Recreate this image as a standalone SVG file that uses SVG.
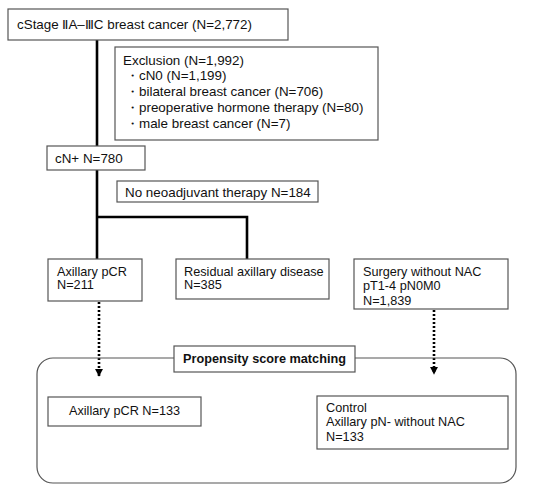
<svg xmlns="http://www.w3.org/2000/svg" width="550" height="491" viewBox="0 0 550 491">
<defs>
<style>
.box{fill:#fff;stroke:#555;stroke-width:1.2}
.t{font-family:"Liberation Sans",Arial,sans-serif;font-size:13.4px;fill:#111}
.s{font-size:12.7px}
.b{font-weight:bold}
.solid{stroke:#000;stroke-width:2.6;fill:none}
.dot{stroke:#000;stroke-width:2.6;fill:none;stroke-dasharray:2 2}
</style>
<marker id="ah" viewBox="0 0 10 10" refX="9" refY="5" markerWidth="3.2" markerHeight="3.2" orient="auto" markerUnits="strokeWidth">
<path d="M0,0 L10,5 L0,10 Z" fill="#000"/>
</marker>
</defs>
<rect width="550" height="491" fill="#fff"/>
<g id="connectors">
<path class="solid" d="M97,40 V259"/>
<path class="solid" d="M97,217 H247 V259"/>
<path class="dot" d="M99,302 V376" marker-end="url(#ah)"/>
<path class="dot" d="M434,310 V374" marker-end="url(#ah)"/>
</g>
<g id="psm-frame">
<rect x="37" y="358" width="479" height="125" rx="16" ry="16" fill="none" stroke="#555" stroke-width="1.2"/>
</g>
<g id="n-start">
<rect class="box" x="8" y="9" width="280" height="31"/>
<text class="t" x="17" y="29">cStage  ⅡA–ⅢC breast cancer (N=2,772)</text>
</g>
<g id="n-exclusion">
<rect class="box" x="115" y="47" width="263" height="93"/>
<text class="t" x="123" y="65">Exclusion (N=1,992)</text>
<text class="t" x="126" y="80">・cN0 (N=1,199)</text>
<text class="t" x="126" y="96">・bilateral breast cancer (N=706)</text>
<text class="t" x="126" y="112">・preoperative hormone therapy (N=80)</text>
<text class="t" x="126" y="128">・male breast cancer (N=7)</text>
</g>
<g id="n-cnplus">
<rect class="box" x="47" y="146" width="98" height="24"/>
<text class="t" x="55" y="163">cN+ N=780</text>
</g>
<g id="n-nonac">
<rect class="box" x="117" y="181" width="201" height="21"/>
<text class="t" x="125" y="197">No neoadjuvant therapy N=184</text>
</g>
<g id="n-pcr">
<rect class="box" x="48" y="259" width="94" height="42"/>
<text class="t s" x="57" y="276">Axillary pCR</text>
<text class="t s" x="57" y="289">N=211</text>
</g>
<g id="n-residual">
<rect class="box" x="176" y="259" width="153" height="40"/>
<text class="t s" x="184" y="276">Residual axillary disease</text>
<text class="t s" x="184" y="289">N=385</text>
</g>
<g id="n-surgery">
<rect class="box" x="354" y="259" width="154" height="50"/>
<text class="t s" x="363" y="276">Surgery without NAC</text>
<text class="t s" x="363" y="290">pT1-4 pN0M0</text>
<text class="t s" x="363" y="305">N=1,839</text>
</g>
<g id="n-psm">
<rect class="box" x="174" y="346" width="181" height="26"/>
<text class="t s b" x="264.5" y="363" text-anchor="middle">Propensity score matching</text>
</g>
<g id="n-pcr133">
<rect class="box" x="48" y="397" width="153" height="29"/>
<text class="t s" x="69" y="415">Axillary pCR N=133</text>
</g>
<g id="n-control">
<rect class="box" x="317" y="396" width="191" height="53"/>
<text class="t s" x="326" y="412">Control</text>
<text class="t s" x="326" y="426">Axillary pN- without NAC</text>
<text class="t s" x="326" y="441">N=133</text>
</g>
</svg>
